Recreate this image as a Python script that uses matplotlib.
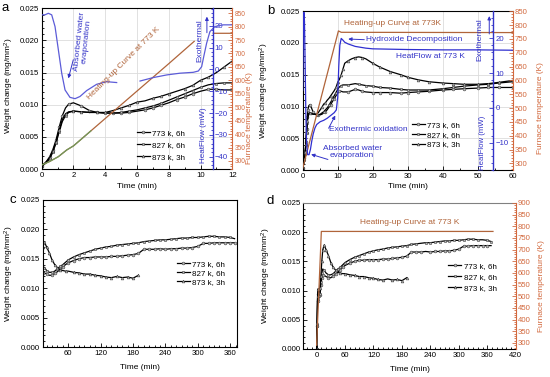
import numpy as np
import matplotlib
matplotlib.use("Agg")
import matplotlib.pyplot as plt
from matplotlib.ticker import MultipleLocator, FormatStrFormatter

plt.rcParams['font.family'] = ['Liberation Sans', 'DejaVu Sans']
plt.rcParams['font.size'] = 5.8
plt.rcParams['mathtext.default'] = 'regular'

nan = np.nan
# ---------------- data ----------------
series_labels = ["773 k, 6h", "827 k, 6h", "873 k, 3h"]
series_markers = ["o", "s", "^"]

# TGA run (panels a and b), time in min, weight change in mg/mm2
t_tga = [0, 0.3, 0.5, 0.7, 0.9, 1.1, 1.3, 1.5, 1.7, 2.0,
         2.5, 3.0, 3.5, 4.0, 4.5, 5.0, 5.5, 6.0, 6.5, 7.0,
         7.5, 8.0, 8.5, 9.0, 9.5, 10.0, 10.5, 11.0, 11.5, 12.0,
         13, 14, 15, 16, 17, 18, 20, 22, 25, 28,
         30, 33, 36, 40, 43, 46, 50, 53, 56, 60]
w773_tga = [0.0004, 0.0012, 0.0019, 0.0030, 0.0045, 0.0065, 0.0083, 0.0095, 0.0101, 0.0103,
            0.0098, 0.0091, 0.0088, 0.0087, 0.0087, 0.0087, 0.0088, 0.0090, 0.0092, 0.0095,
            0.0099, 0.0103, 0.0108, 0.0112, 0.0117, 0.0121, 0.0124, 0.0124, 0.0123, 0.0123,
            0.0123, 0.0125, 0.0127, 0.0126, 0.0124, 0.0123, 0.0122, 0.0122, 0.0122, 0.0121,
            0.0122, 0.0123, 0.0124, 0.0126, 0.0127, 0.0128, 0.0129, 0.0130, 0.0130, 0.0130]
w827_tga = [0.0004, 0.0010, 0.0016, 0.0026, 0.0040, 0.0058, 0.0074, 0.0083, 0.0088, 0.0090,
            0.0089, 0.0088, 0.0088, 0.0087, 0.0087, 0.0088, 0.0090, 0.0092, 0.0095, 0.0098,
            0.0102, 0.0107, 0.0112, 0.0117, 0.0122, 0.0127, 0.0131, 0.0133, 0.0134, 0.0134,
            0.0134, 0.0135, 0.0136, 0.0135, 0.0134, 0.0133, 0.0132, 0.0130, 0.0129, 0.0127,
            0.0126, 0.0126, 0.0126, 0.0128, 0.0130, 0.0132, 0.0134, 0.0135, 0.0137, 0.0139]
w873_tga = [0.0004, 0.0011, 0.0017, 0.0028, 0.0042, 0.0060, 0.0077, 0.0086, 0.0089, 0.0090,
            0.0089, 0.0088, 0.0088, 0.0088, 0.0091, 0.0095, 0.0099, 0.0104, 0.0106, 0.0110,
            0.0113, 0.0117, 0.0121, 0.0125, 0.0130, 0.0138, 0.0143, 0.0150, 0.0159, 0.0168,
            0.0172, 0.0175, 0.0177, 0.0178, 0.0177, 0.0175, 0.0168, 0.0162, 0.0155, 0.0150,
            0.0146, 0.0142, 0.0139, 0.0137, 0.0136, 0.0135, 0.0135, 0.0136, 0.0138, 0.0141]

# heating-up curves (furnace temperature, K)
heat_t_a = [0, 0.5, 1.05, 1.58, 2.0, 3.1, 4.0, 6.0, 8.0, 9.6, nan, 10.8, 12]
heat_T_a = [285, 298, 316, 341, 356, 412, 458, 560, 662, 745, nan, 775, 775]
heat_t_b = [0, 10.2, 11.0, 60]
heat_T_b = [282, 779, 774, 773]
heat_t_d = [0, 10, 372]
heat_T_d = [290, 778, 778]

# heat flow (mW)
hf_t_a = [0, 0.2, 0.42, 0.63, 0.84, 1.05, 1.26, 1.47, 1.78, 2.1, 2.41, 2.83, 3.46, 4.09, 4.72,
          nan, 6.19, 7.03, 7.87, 8.71, 9.54, 9.86, 10.07, 10.2, 10.38, 10.59, 10.9, 11.43, 12]
hf_a = [25.1, 25.1, 25.8, 25.1, 19.7, 9.0, -1.7, -9.4, -12.8, -13.4, -12.4, -9.7, -6.8, -5.6, -6.0,
        nan, -5.3, -3.7, -2.5, -1.7, -1.3, -0.7, 1.3, 5.9, 12.0, 17.4, 19.7, 20.5, 20.5]
hf_t_b = [0, 0.2, 0.35, 0.5, 0.7, 0.9, 1.1, 1.4, 1.8, 2.2, 2.6, 3.0, 3.5, 4.0, 5.0, 6.0, 7.0, 8.0,
          9.0, 9.6, 10.0, 10.3, 10.6, 11.0, 11.5, 12.0, 13.0, 15.0, 18.0, 20.0, 25.0, 30.0, 40.0,
          50.0, 60.0]
hf_b = [5, 24, 27.5, 25, 12, -2, -10, -13.5, -13.5, -12, -9.5, -7.5, -5.8, -4.8, -4.0, -3.6, -3.0,
        -2.2, -1.4, -0.6, 3.0, 12.0, 18.0, 20.0, 19.5, 18.9, 18.4, 17.7, 17.2, 17.0, 16.9, 16.8,
        16.7, 16.7, 16.6]

# long oxidation runs (panels c and d), time in min
t_long = [0, 1, 2, 3, 5, 7, 9, 11, 13, 16, 20, 25, 30, 35, 40, 45, 50, 55, 60, 70,
          80, 90, 100, 110, 120, 130, 140, 150, 160, 170, 180, 190, 200, 210, 220, 230, 240, 250,
          260, 270, 280, 290, 300, 310, 320, 330, 340, 350, 360, 368]
w773_long = [0.0, 0.0040, 0.0082, 0.0095, 0.0088, 0.0092, 0.0110, 0.0122, 0.0126, 0.0126,
             0.0124, 0.0122, 0.0122, 0.0125, 0.0128, 0.0132, 0.0136, 0.0140, 0.0143, 0.0147,
             0.0150, 0.0152, 0.0152, 0.0153, 0.0153, 0.0153, 0.0154, 0.0154, 0.0155, 0.0156,
             0.0157, 0.0159, 0.0166, 0.0166, 0.0166, 0.0167, 0.0166, 0.0167, 0.0167, 0.0168,
             0.0168, 0.0169, 0.0171, 0.0176, 0.0176, 0.0177, 0.0177, 0.0177, 0.0177, 0.0177]
w827_long = [0.0, 0.0040, 0.0085, 0.0098, 0.0090, 0.0095, 0.0115, 0.0130, 0.0137, 0.0135,
             0.0130, 0.0127, 0.0127, 0.0129, 0.0133, 0.0137, 0.0140, 0.0144, 0.0148, 0.0153,
             0.0157, 0.0160, 0.0163, 0.0166, 0.0168, 0.0170, 0.0171, 0.0173, 0.0174, 0.0175,
             0.0176, 0.0177, 0.0179, 0.0180, 0.0181, 0.0182, 0.0182, 0.0183, 0.0184, 0.0185,
             0.0185, 0.0186, 0.0186, 0.0187, 0.0188, 0.0188, 0.0187, 0.0187, 0.0186, 0.0184]
t873_long = [0, 1, 2, 3, 5, 7, 9, 11, 13, 16, 20, 25, 30, 35, 40, 45, 50, 55, 60, 70,
             80, 90, 100, 110, 120, 130, 140, 150, 160, 170, 180, 190]
w873_long = [0.0, 0.0045, 0.0090, 0.0103, 0.0097, 0.0105, 0.0125, 0.0150, 0.0170, 0.0178,
             0.0170, 0.0160, 0.0148, 0.0140, 0.0135, 0.0131, 0.0130, 0.0129, 0.0129, 0.0127,
             0.0126, 0.0124, 0.0124, 0.0122, 0.0121, 0.0119, 0.0118, 0.0120, 0.0118, 0.0119,
             0.0117, 0.0122]

# ---------------- styles ----------------
BLUE_T = '#3333c8'
BLUE_A = '#5c5cd8'
BLUE_B = '#2f2fd0'
BROWN = '#b0643a'
GREEN = '#6f9a5c'
SALMON = '#d2693e'
GRID = '#dcdcdc'

fig = plt.figure(figsize=(5.5, 3.77), dpi=100)


def style_ax(ax):
    ax.tick_params(which='both', direction='in', width=0.6, labelsize=5.6, pad=2)
    ax.tick_params(which='major', length=2.6)
    ax.tick_params(which='minor', length=1.4)
    for s in ax.spines.values():
        s.set_linewidth(0.8)


def weight_axes(ax, xlim, xmaj, xmin_):
    ax.set_xlim(*xlim)
    ax.set_ylim(0, 0.025)
    ax.xaxis.set_major_locator(MultipleLocator(xmaj))
    ax.xaxis.set_minor_locator(MultipleLocator(xmin_))
    ax.yaxis.set_major_locator(MultipleLocator(0.005))
    ax.yaxis.set_minor_locator(MultipleLocator(0.001))
    ax.yaxis.set_major_formatter(FormatStrFormatter('%.3f'))
    style_ax(ax)
    ax.set_xlabel('Time (min)', fontsize=6)
    ax.set_ylabel('Weight change (mg/mm$^2$)', fontsize=6)


def plot_weights(ax, times, ws, every):
    for tt, w, lab, m in zip(times, ws, series_labels, series_markers):
        ax.plot(tt, w, color='black', lw=0.9, marker=m, ms=2.0, mfc='#b8b8b8',
                mec='#404040', mew=0.4, markevery=every, label=lab)


def temp_axes(ax, ylim, labelsize=5.6):
    axt = ax.twinx()
    axt.set_ylim(*ylim)
    axt.yaxis.set_major_locator(MultipleLocator(50))
    axt.yaxis.set_minor_locator(MultipleLocator(10))
    style_ax(axt)
    for s in ['left', 'top', 'bottom']:
        axt.spines[s].set_visible(False)
    axt.spines['right'].set_color(SALMON)
    axt.tick_params(axis='y', which='both', colors=SALMON, labelcolor=SALMON, pad=1.5,
                    labelsize=labelsize)
    axt.set_ylabel('Furnace temperature (K)', color=SALMON, fontsize=6)
    ax.spines['right'].set_visible(False)
    return axt


def heat_axes(ax, ylim, xpos, major):
    axh = ax.twinx()
    axh.set_ylim(*ylim)
    axh.yaxis.set_major_locator(MultipleLocator(major))
    axh.yaxis.set_minor_locator(MultipleLocator(major / 5))
    style_ax(axh)
    for s in ['left', 'top', 'bottom']:
        axh.spines[s].set_visible(False)
    axh.spines['right'].set_position(('data', xpos))
    axh.spines['right'].set_color(BLUE_T)
    axh.spines['right'].set_linewidth(1.0)
    axh.tick_params(axis='y', which='both', colors=BLUE_T, labelcolor=BLUE_T, pad=1.5)
    return axh


def legend(ax, x, y, ls):
    ax.legend(loc='lower left', bbox_to_anchor=(x, y), frameon=False, fontsize=5.8,
              handlelength=1.6, handletextpad=0.3, labelspacing=ls, borderpad=0,
              borderaxespad=0, numpoints=1)


arrow_kw = dict(arrowstyle='-|>', color=BLUE_T, lw=0.7, mutation_scale=5, shrinkA=0, shrinkB=0)

# ---------------- panel a ----------------
ax_a = fig.add_axes([0.0758, 0.5517, 0.3466, 0.4263])
weight_axes(ax_a, (0, 12), 2, 1)
ax_a.grid(True, which='major', color=GRID, lw=0.6)
ax_a.set_axisbelow(True)
plot_weights(ax_a, [t_tga] * 3, [w773_tga, w827_tga, w873_tga], 0.045)
legend(ax_a, 0.50, 0.048, 0.58)
ax_a.yaxis.set_label_coords(-0.135, 0.52)
ax_a.xaxis.set_label_coords(0.5, -0.09)
at_a = temp_axes(ax_a, (270, 868), labelsize=4.7)
at_a.yaxis.set_label_coords(1.07, 0.32)
at_a.plot(heat_t_a, heat_T_a, color=BROWN, lw=0.9)
at_a.plot(heat_t_a[:6], heat_T_a[:6], color=GREEN, lw=0.9)
ah_a = heat_axes(ax_a, (-45.7, 28.1), 10.76, 10)
ah_a.plot(hf_t_a, hf_a, color=BLUE_A, lw=0.9)
# annotations (placed in weight coordinates of the host axes)
ah_a.text(2.58, 0.0198, 'Absorbed water\nevaporation', transform=ax_a.transData, color=BLUE_T,
          rotation=84, ha='center', va='center', fontsize=6, linespacing=1.0)
ah_a.annotate('', xy=(1.68, 0.0141), xytext=(1.99, 0.0170), xycoords=ax_a.transData,
              textcoords=ax_a.transData, arrowprops=arrow_kw)
ah_a.text(5.15, 0.0164, 'Heating-up Curve at 773 K', transform=ax_a.transData, color=BROWN,
          rotation=45, ha='center', va='center', fontsize=6)
ah_a.text(9.98, 0.0200, 'Exothermal', transform=ax_a.transData, color=BLUE_T,
          rotation=90, ha='center', va='center', fontsize=6)
ah_a.annotate('', xy=(10.4, 0.0237), xytext=(10.4, 0.0212), xycoords=ax_a.transData,
              textcoords=ax_a.transData, arrowprops=arrow_kw)
ah_a.text(10.19, 0.0052, 'HeatFlow (mW)', transform=ax_a.transData, color=BLUE_T,
          rotation=90, ha='center', va='center', fontsize=5.8)

# ---------------- panel b ----------------
ax_b = fig.add_axes([0.5504, 0.5483, 0.3818, 0.4225])
weight_axes(ax_b, (0, 60), 10, 5)
ax_b.grid(True, which='major', color=GRID, lw=0.6)
ax_b.set_axisbelow(True)
plot_weights(ax_b, [t_tga] * 3, [w773_tga, w827_tga, w873_tga], 0.03)
legend(ax_b, 0.519, 0.137, 0.27)
ax_b.yaxis.set_label_coords(-0.149, 0.5)
ax_b.xaxis.set_label_coords(0.5, -0.078)
at_b = temp_axes(ax_b, (275, 851))
at_b.yaxis.set_label_coords(1.117, 0.39)
at_b.plot(heat_t_b, heat_T_b, color=BROWN, lw=0.9)
ah_b = heat_axes(ax_b, (-18, 27.9), 54.5, 10)
ah_b.plot(hf_t_b, hf_b, color=BLUE_B, lw=0.9)
ah_b.text(25.6, 0.0230, 'Heating-up Curve at 773K', transform=ax_b.transData, color=BROWN,
          ha='center', va='center', fontsize=6)
ah_b.text(18.0, 0.0205, 'Hydroxide Decomposition', transform=ax_b.transData, color=BLUE_T,
          ha='left', va='center', fontsize=6)
ah_b.annotate('', xy=(13.0, 0.0206), xytext=(17.6, 0.0205), xycoords=ax_b.transData,
              textcoords=ax_b.transData, arrowprops=arrow_kw)
ah_b.text(26.6, 0.0178, 'HeatFlow at 773 K', transform=ax_b.transData, color=BLUE_T,
          ha='left', va='center', fontsize=6)
ah_b.text(50.6, 0.0205, 'Exothermal', transform=ax_b.transData, color=BLUE_T,
          rotation=90, ha='center', va='center', fontsize=6)
ah_b.annotate('', xy=(53.3, 0.0242), xytext=(53.3, 0.0214), xycoords=ax_b.transData,
              textcoords=ax_b.transData, arrowprops=arrow_kw)
ah_b.text(51.3, 0.0043, 'HeatFlow (mW)', transform=ax_b.transData, color=BLUE_T,
          rotation=90, ha='center', va='center', fontsize=5.6)
ah_b.text(7.5, 0.0064, 'Exothermic oxidation', transform=ax_b.transData, color=BLUE_T,
          ha='left', va='center', fontsize=6)
ah_b.annotate('', xy=(9.3, 0.0086), xytext=(7.4, 0.0066), xycoords=ax_b.transData,
              textcoords=ax_b.transData, arrowprops=arrow_kw)
ah_b.text(14.1, 0.0029, 'Absorbed water\nevaporation', transform=ax_b.transData, color=BLUE_T,
          ha='center', va='center', fontsize=6, linespacing=1.1)
ah_b.annotate('', xy=(2.4, 0.0025), xytext=(7.2, 0.0017), xycoords=ax_b.transData,
              textcoords=ax_b.transData, arrowprops=arrow_kw)

# ---------------- panel c ----------------
ax_c = fig.add_axes([0.0776, 0.0788, 0.3538, 0.3915])
weight_axes(ax_c, (12.7, 373), 60, 10)
plot_weights(ax_c, [t_long, t_long, t873_long], [w773_long, w827_long, w873_long], 0.02)
legend(ax_c, 0.689, 0.416, 0.15)
ax_c.yaxis.set_label_coords(-0.136, 0.5)
ax_c.xaxis.set_label_coords(0.5, -0.113)

# ---------------- panel d ----------------
ax_d = fig.add_axes([0.5515, 0.0743, 0.3862, 0.3873])
weight_axes(ax_d, (-28, 420), 60, 10)
plot_weights(ax_d, [t_long, t_long, t873_long], [w773_long, w827_long, w873_long], 0.02)
legend(ax_d, 0.683, 0.392, 0.42)
ax_d.yaxis.set_label_coords(-0.145, 0.5)
ax_d.xaxis.set_label_coords(0.5, -0.114)
ax_d.spines['top'].set_color('#808080')
at_d = temp_axes(ax_d, (274, 900))
at_d.yaxis.set_label_coords(1.107, 0.43)
at_d.plot(heat_t_d, heat_T_d, color=BROWN, lw=0.9)
at_d.text(197, 0.02158, 'Heating-up Curve at 773 K', transform=ax_d.transData, color=BROWN,
          ha='center', va='center', fontsize=6)

# panel letters
for lab, x, y in [('a', 0.010, 0.980), ('b', 0.4927, 0.971), ('c', 0.0242, 0.4687), ('d', 0.491, 0.468)]:
    fig.text(x, y, lab, fontsize=9.5, ha='center', va='center')

fig.savefig('out.png', dpi=100)
